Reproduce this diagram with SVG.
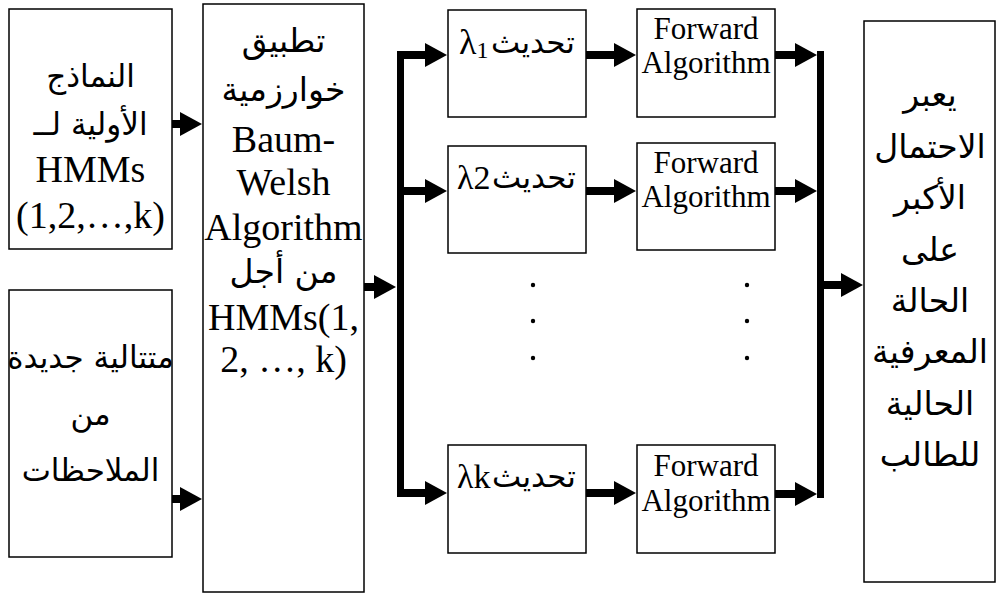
<svg xmlns="http://www.w3.org/2000/svg" width="999" height="594" viewBox="0 0 999 594">
<style>
.box{fill:#fff;stroke:#000;stroke-width:1.5}
.lat{font-family:"Liberation Serif","DejaVu Serif",serif;fill:#000}
.ar{font-family:"DejaVu Sans",sans-serif;fill:#000}
.c{text-anchor:middle}
.arr{stroke:#000;stroke-width:8;fill:none;marker-end:url(#ah)}
.bus{stroke:#000;stroke-width:7;fill:none}
</style>
<defs>
<marker id="ah" markerUnits="userSpaceOnUse" markerWidth="24" markerHeight="24" refX="1" refY="12" orient="auto" overflow="visible">
<path d="M0,0 L22,12 L0,24 Z" fill="#000"/>
</marker>
</defs>
<rect width="999" height="594" fill="#fff"/>

<g id="nodeA">
<rect class="box" x="9" y="9" width="163" height="240"/>
<text class="ar c" x="90.5" y="87" font-size="31">النماذج</text>
<text class="ar c" x="90.5" y="135" font-size="31">الأولية لــ</text>
<text class="lat c" x="90.5" y="182" font-size="38">HMMs</text>
<text class="lat c" x="90.5" y="228" font-size="38">(1,2,…,k)</text>
</g>

<g id="nodeB">
<rect class="box" x="9" y="290" width="163" height="267"/>
<text class="ar c" x="90.5" y="368" font-size="31">متتالية جديدة</text>
<text class="ar c" x="90.5" y="425" font-size="31">من</text>
<text class="ar c" x="90.5" y="481" font-size="31">الملاحظات</text>
</g>

<g id="nodeC">
<rect class="box" x="203" y="4" width="161" height="588"/>
<text class="ar c" x="283.5" y="52" font-size="33">تطبيق</text>
<text class="ar c" x="283.5" y="101" font-size="33">خوارزمية</text>
<text class="lat c" x="283.5" y="152" font-size="38">Baum-</text>
<text class="lat c" x="283.5" y="195" font-size="38">Welsh</text>
<text class="lat c" x="283.5" y="240" font-size="38">Algorithm</text>
<text class="ar c" x="283.5" y="283" font-size="33">من أجل</text>
<text class="lat c" x="283.5" y="330" font-size="38">HMMs(1,</text>
<text class="lat c" x="283.5" y="372" font-size="38">2, …, k)</text>
</g>

<g id="nodeL1">
<rect class="box" x="448" y="10" width="138" height="107"/>
<text class="lat" x="459" y="54" font-size="36">λ<tspan font-size="24" dy="4">1</tspan></text>
<text class="ar c" x="533" y="53" font-size="31">تحديث</text>
</g>
<g id="nodeL2">
<rect class="box" x="448" y="146" width="138" height="107"/>
<text class="lat" x="457" y="189" font-size="34">λ2</text>
<text class="ar c" x="534" y="188" font-size="31">تحديث</text>
</g>
<g id="nodeLk">
<rect class="box" x="448" y="445" width="138" height="108"/>
<text class="lat" x="457" y="488" font-size="34">λk</text>
<text class="ar c" x="534" y="487" font-size="31">تحديث</text>
</g>

<g id="nodeF1">
<rect class="box" x="637" y="9" width="138" height="108"/>
<text class="lat c" x="706" y="39" font-size="31">Forward</text>
<text class="lat c" x="706" y="73" font-size="31">Algorithm</text>
</g>
<g id="nodeF2">
<rect class="box" x="637" y="143" width="138" height="107"/>
<text class="lat c" x="706" y="173" font-size="31">Forward</text>
<text class="lat c" x="706" y="207" font-size="31">Algorithm</text>
</g>
<g id="nodeFk">
<rect class="box" x="637" y="445" width="138" height="108"/>
<text class="lat c" x="706" y="476" font-size="31">Forward</text>
<text class="lat c" x="706" y="511" font-size="31">Algorithm</text>
</g>

<g id="nodeR">
<rect class="box" x="864" y="21" width="131" height="561"/>
<text class="ar c" x="930" y="106" font-size="33">يعبر</text>
<text class="ar c" x="930" y="158" font-size="33">الاحتمال</text>
<text class="ar c" x="930" y="209" font-size="33">الأكبر</text>
<text class="ar c" x="930" y="261" font-size="33">على</text>
<text class="ar c" x="930" y="312" font-size="33">الحالة</text>
<text class="ar c" x="930" y="363" font-size="33">المعرفية</text>
<text class="ar c" x="930" y="415" font-size="33">الحالية</text>
<text class="ar c" x="930" y="466" font-size="33">للطالب</text>
</g>

<g id="dots" fill="#000">
<circle cx="533" cy="285" r="2.2"/>
<circle cx="533" cy="321" r="2.2"/>
<circle cx="533" cy="358" r="2.2"/>
<circle cx="747" cy="285" r="2.2"/>
<circle cx="747" cy="321" r="2.2"/>
<circle cx="747" cy="358" r="2.2"/>
</g>

<g id="connectors">
<line class="arr" x1="172" y1="124" x2="181" y2="124"/>
<line class="arr" x1="172" y1="499" x2="181" y2="499"/>
<line class="arr" x1="364" y1="287" x2="375" y2="287"/>
<line class="bus" x1="400.5" y1="51" x2="400.5" y2="497"/>
<line class="arr" x1="400" y1="55" x2="426" y2="55"/>
<line class="arr" x1="400" y1="191" x2="426" y2="191"/>
<line class="arr" x1="400" y1="493" x2="426" y2="493"/>
<line class="arr" x1="586" y1="55" x2="615" y2="55"/>
<line class="arr" x1="586" y1="191" x2="615" y2="191"/>
<line class="arr" x1="586" y1="493" x2="615" y2="493"/>
<line class="arr" x1="775" y1="55" x2="796" y2="55"/>
<line class="arr" x1="775" y1="191" x2="796" y2="191"/>
<line class="arr" x1="775" y1="494" x2="796" y2="494"/>
<line class="bus" x1="820.5" y1="51" x2="820.5" y2="498"/>
<line class="arr" x1="820" y1="285" x2="842" y2="285"/>
</g>
</svg>
